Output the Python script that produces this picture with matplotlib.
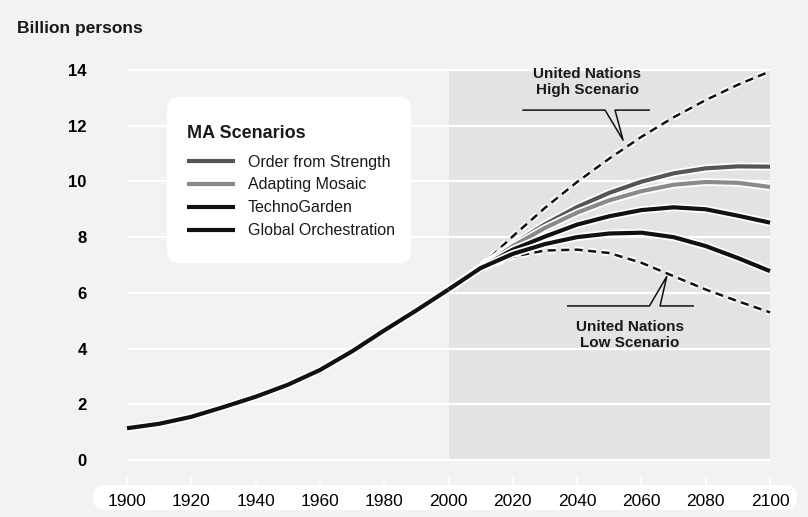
import matplotlib
matplotlib.use("Agg")
import matplotlib.pyplot as plt
import matplotlib.patheffects as pe
from matplotlib.patches import FancyBboxPatch, Rectangle
from matplotlib.transforms import IdentityTransform

plt.rcParams['font.family'] = ['Liberation Sans', 'DejaVu Sans']
plt.rcParams['text.color'] = '#1a1a1a'

# data (billion persons)
years_hist = [1900, 1910, 1920, 1930, 1940, 1950, 1960, 1970, 1980, 1990, 2000]
pop_hist = [1.14, 1.3, 1.55, 1.9, 2.27, 2.7, 3.23, 3.9, 4.65, 5.37, 6.12]

years_proj = [2000, 2010, 2020, 2030, 2040, 2050, 2060, 2070, 2080, 2090, 2100]
un_high = [6.12, 6.95, 8.03, 9.05, 9.98, 10.82, 11.6, 12.3, 12.92, 13.47, 13.95]
order_strength = [6.12, 6.92, 7.74, 8.46, 9.08, 9.59, 9.99, 10.29, 10.47, 10.54, 10.53]
adapting_mosaic = [6.12, 6.91, 7.68, 8.33, 8.88, 9.32, 9.65, 9.88, 9.98, 9.95, 9.8]
techno_garden = [6.12, 6.9, 7.55, 8.02, 8.45, 8.75, 8.97, 9.07, 9.0, 8.77, 8.52]
global_orch = [6.12, 6.89, 7.4, 7.75, 8.0, 8.13, 8.16, 8.0, 7.68, 7.25, 6.78]
un_low = [6.12, 6.85, 7.3, 7.52, 7.55, 7.43, 7.08, 6.6, 6.12, 5.7, 5.3]

scenario_names = ['Order from Strength', 'Adapting Mosaic', 'TechnoGarden', 'Global Orchestration']
scenario_colors = ['#555555', '#8a8a8a', '#111111', '#111111']
x_ticks = list(range(1900, 2101, 20))
y_ticks = list(range(0, 15, 2))

W, H = 808, 517
fig = plt.figure(figsize=(W / 100, H / 100), dpi=100, facecolor='#f2f2f2')
ax = fig.add_axes([127 / W, (H - 477) / H, 643 / W, (477 - 58) / H])
ax.set_facecolor('#f2f2f2')
for s in ax.spines.values():
    s.set_visible(False)

ax.set_xlim(1900, 2100)
ax.set_ylim(-0.61, 14.43)

# shaded projection period
ax.add_patch(Rectangle((2000, 0), 100, 14, facecolor='#e3e3e3', lw=0, zorder=1))

ax.set_axisbelow('line')
ax.set_yticks(y_ticks)
ax.grid(axis='y', color='white', lw=1.6)
ax.set_xticks(x_ticks)
ax.tick_params(axis='y', length=0, pad=29, labelsize=12)
for t in ax.get_yticklabels():
    t.set_fontweight('bold')
ax.tick_params(axis='x', length=7, width=1.2, color='white', pad=5, labelsize=12.5)

halo = lambda w: [pe.Stroke(linewidth=w, foreground='white'), pe.Normal()]

ax.plot(years_proj, un_high, color='#111111', lw=1.8, dashes=(3.2, 2.2),
        path_effects=halo(4.5), clip_on=False, zorder=3)
ax.plot(years_proj, un_low, color='#111111', lw=1.8, dashes=(3.2, 2.2),
        path_effects=halo(4.5), clip_on=False, zorder=3)

handles = []
for vals, c in zip([order_strength, adapting_mosaic, techno_garden, global_orch], scenario_colors):
    ln, = ax.plot(years_proj, vals, color=c, lw=3.0, solid_capstyle='butt',
                  path_effects=halo(5.5), clip_on=False, zorder=4)
    handles.append(ln)

ax.plot(years_hist, pop_hist, color='#111111', lw=3.0, solid_capstyle='butt',
        path_effects=halo(5.5), clip_on=False, zorder=5)

# callouts
ax.text(2043.1, 13.57, 'United Nations\nHigh Scenario', ha='center', va='center',
        fontsize=11, fontweight='bold', linespacing=1.2)
ax.plot([2023.2, 2048.7, 2054.3, 2051.8, 2062.4], [12.56, 12.56, 11.48, 12.56, 12.56],
        color='#111111', lw=1.1, zorder=6)
ax.text(2056.4, 4.49, 'United Nations\nLow Scenario', ha='center', va='center',
        fontsize=11, fontweight='bold', linespacing=1.2)
ax.plot([2037.1, 2062.5, 2067.9, 2065.8, 2076.1], [5.53, 5.53, 6.59, 5.53, 5.53],
        color='#111111', lw=1.1, zorder=6)

# legend panel
ax.add_patch(FancyBboxPatch((167, H - 263), 244, 166, boxstyle='round,pad=0,rounding_size=12',
                            transform=IdentityTransform(), facecolor='white', lw=0,
                            clip_on=False, zorder=6))
ax.text(187 / W, 1 - 133 / H, 'MA Scenarios', transform=fig.transFigure, ha='left',
        va='center', fontsize=13, fontweight='bold', zorder=8)
leg = ax.legend(handles=handles, labels=scenario_names, loc='upper left',
                bbox_to_anchor=(187 / W, 1 - 154.5 / H), bbox_transform=fig.transFigure,
                borderaxespad=0, borderpad=0, handlelength=3.0, handletextpad=0.8,
                labelspacing=0.5, fontsize=11.5, frameon=False)
leg.set_zorder(7)

# white rounded band behind the year labels
fig.add_artist(FancyBboxPatch((93, H - 510), 704, 25, boxstyle='round,pad=0,rounding_size=12.5',
                              transform=IdentityTransform(), facecolor='white', lw=0, zorder=-1))

fig.text(17 / W, 1 - 28 / H, 'Billion persons', ha='left', va='center', fontsize=12.5,
         fontweight='bold')

fig.savefig('out.png', dpi=100, facecolor=fig.get_facecolor())
